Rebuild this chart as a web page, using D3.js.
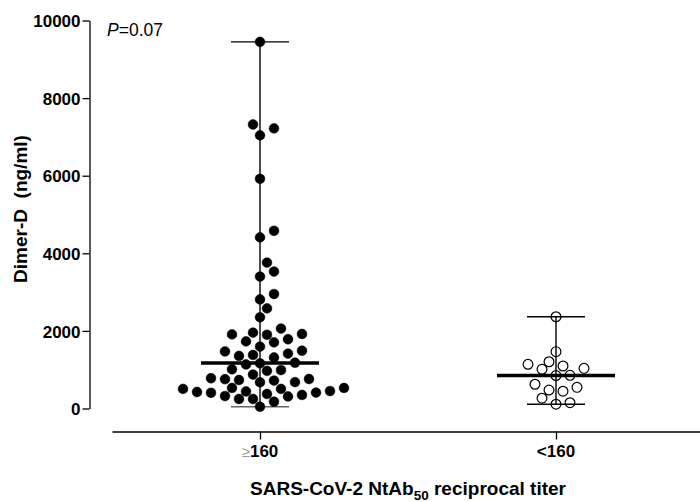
<!DOCTYPE html>
<html><head><meta charset="utf-8">
<script src="https://cdn.jsdelivr.net/npm/d3@7"></script>
<style>
body{margin:0;background:#fff}
svg{display:block}
text{font-family:"Liberation Sans",Arial,sans-serif}
</style>
</head><body>
<svg id="c" width="700" height="502"></svg>
<script>
// ---- data ----
const categories = ["≥160", "<160"];
const highTiter = [9450, 7320, 7220, 7040, 5920, 4580, 4410, 3760, 3530, 3400,
  2950, 2810, 2580, 2350, 2060, 1955, 1920, 1900, 1910, 1730,
  1705, 1785, 1595, 1470, 1490, 1380, 1315, 1355, 1415, 1165,
  1180, 1135, 1010, 970, 990, 875, 780, 760, 735, 675,
  680, 720, 755, 530, 505, 450, 505, 530, 425, 410,
  375, 310, 245, 440, 245, 320, 350, 405, 175, 45];
const lowTiter = [2365, 1465, 1205, 1095, 1010, 1035, 1140, 855, 850, 545,
  475, 625, 445, 265, 110, 150];
const yTicks = [0, 2000, 4000, 6000, 8000, 10000];
const pValue = "0.07";
const yTitle = "Dimer-D  (ng/ml)";

// ---- layout ----
const svg = d3.select("#c");
const y = d3.scaleLinear().domain([0, 10000]).range([408.5, 20.5]);
const x = d3.scalePoint().domain(categories).range([112, 704]).padding(0.5);
const axisX = 89.5, baseY = 431.5;
const step = 7, r = 4.9;

function swarm(values) {
  const pts = values.map(v => ({v, py: y(v)})).sort((a, b) => a.v - b.v);
  const placed = [];
  pts.forEach(p => {
    for (let i = 0; i < 100; i++) {
      const k = i === 0 ? 0 : (i % 2 ? (i + 1) / 2 : -(i / 2));
      const ok = placed.every(q => {
        const dk = Math.abs(q.k - k), dy = Math.abs(q.py - p.py);
        if (dk === 0) return dy >= 14;
        if (dk === 1) return dy >= 7.5;
        return true;
      });
      if (ok) { p.k = k; placed.push(p); break; }
    }
  });
  return pts;
}

// y axis
const yAxis = d3.axisLeft(y).tickValues(yTicks).tickSize(7).tickSizeOuter(0).tickFormat(d3.format("d"));
const gy = svg.append("g").attr("transform", `translate(${axisX},0)`).call(yAxis);
gy.select(".domain").attr("stroke", "#000").attr("stroke-width", 1.3);
gy.selectAll(".tick line").attr("stroke", "#000").attr("stroke-width", 1.3);
gy.selectAll(".tick text").attr("font-size", 17).attr("font-weight", "bold")
  .attr("font-family", "Liberation Sans, Arial, sans-serif").attr("fill", "#000").attr("x", -9).attr("dy", "0.36em");

// x axis
const xAxis = d3.axisBottom(x).tickSize(8).tickSizeOuter(0).tickFormat("");
const gx = svg.append("g").attr("transform", `translate(0,${baseY})`).call(xAxis);
gx.select(".domain").attr("stroke", "#000").attr("stroke-width", 1.5);
gx.selectAll(".tick line").attr("stroke", "#000").attr("stroke-width", 1.3);

// x tick labels
const lab0 = svg.append("text").attr("x", x(categories[0])).attr("y", 457)
  .attr("text-anchor", "middle").attr("font-size", 17).attr("font-weight", "bold");
lab0.append("tspan").attr("fill", "#999").attr("font-weight", "normal").attr("font-size", 15).text(categories[0].slice(0, 1));
lab0.append("tspan").text(categories[0].slice(1));
svg.append("text").attr("x", x(categories[1])).attr("y", 457)
  .attr("text-anchor", "middle").attr("font-size", 17).attr("font-weight", "bold").text(categories[1]);

// x title
const xt = svg.append("text").attr("x", 408).attr("y", 495).attr("text-anchor", "middle")
  .attr("font-size", 19).attr("font-weight", "bold");
xt.append("tspan").text("SARS-CoV-2 NtAb");
xt.append("tspan").attr("font-size", 13.5).attr("dy", 5).text("50");
xt.append("tspan").attr("dy", -5).text(" reciprocal titer");

// y title
svg.append("text").attr("transform", "translate(27,209) rotate(-90)").attr("text-anchor", "middle")
  .attr("font-size", 19).attr("font-weight", "bold").attr("xml:space", "preserve").text(yTitle);

// P value
const pt = svg.append("text").attr("x", 107).attr("y", 36).attr("font-size", 17.5);
pt.append("tspan").attr("font-style", "italic").text("P");
pt.append("tspan").text("=" + pValue);

// groups
const groups = [
  {cat: categories[0], vals: highTiter, filled: true},
  {cat: categories[1], vals: lowTiter, filled: false}
];
groups.forEach(g => {
  const cx = x(g.cat);
  const [mn, mx] = d3.extent(g.vals);
  const med = d3.median(g.vals);
  const G = svg.append("g");
  G.append("line").attr("x1", cx).attr("x2", cx).attr("y1", y(mx)).attr("y2", y(mn)).attr("stroke", "#000").attr("stroke-width", 1.4);
  G.append("line").attr("x1", cx - 29).attr("x2", cx + 29).attr("y1", y(mx)).attr("y2", y(mx)).attr("stroke", "#000").attr("stroke-width", 1.4);
  G.append("line").attr("x1", cx - 29).attr("x2", cx + 29).attr("y1", y(mn)).attr("y2", y(mn))
    .attr("stroke", g.filled ? "#666" : "#000").attr("stroke-width", 1.4);
  const pts = swarm(g.vals);
  G.selectAll("circle").data(pts).join("circle")
    .attr("cx", d => cx + d.k * step).attr("cy", d => d.py).attr("r", r)
    .attr("fill", g.filled ? "#000" : "none").attr("stroke", "#000").attr("stroke-width", g.filled ? 0.5 : 1.2);
  G.append("line").attr("x1", cx - 59).attr("x2", cx + 59).attr("y1", y(med)).attr("y2", y(med)).attr("stroke", "#000").attr("stroke-width", 3.5);
});
</script>
</body></html>
